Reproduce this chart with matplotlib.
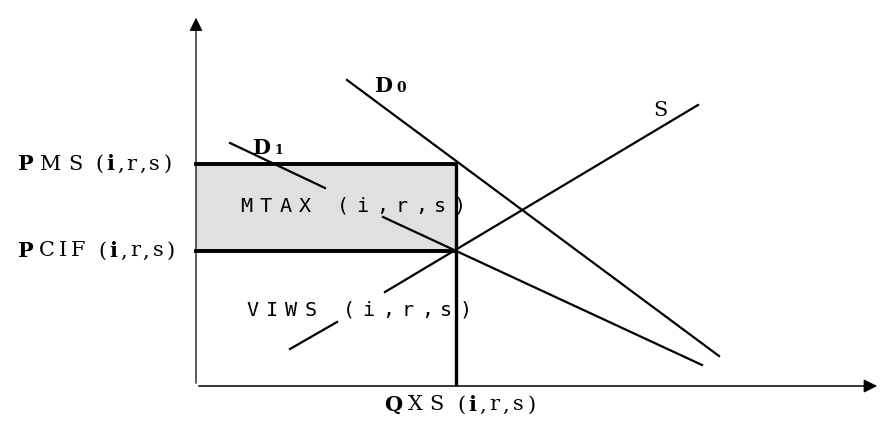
import matplotlib.pyplot as plt
from matplotlib.font_manager import FontProperties

# quantity / price units measured from the origin of the diagram
q_max, p_max = 684, 371
qxs = 260            # traded quantity
pms = 222            # market price incl. tax
pcif = 135.5         # cif price

d0_q = [151, 523]
d0_p = [306, 30]
d1_q = [34, 129, 187, 506]     # D1 drawn in two pieces around the MTAX label
d1_p = [243, 198, 169, 21]
s_q = [94, 141, 189, 502]      # S drawn in two pieces around the VIWS label
s_p = [37, 64, 94, 281]

fig = plt.figure(figsize=(8.81, 4.21), dpi=100)
ax = fig.add_axes([0, 0, 1, 1])
ax.set_xlim(-196, 685)
ax.set_ylim(-35, 386)
ax.axis('off')
rend = fig.canvas.get_renderer()


def adv(ch, fp):
    # advance width of one character in pixels
    w = rend.get_text_width_height_descent('|' + ch + '|', fp, ismath=False)[0]
    return w - rend.get_text_width_height_descent('||', fp, ismath=False)[0]


def wide_text(x, y, s, width, family, size, bold=()):
    # the source draws its labels stretched sideways, so lay the letters out one by one
    props = [FontProperties(family=family, size=size,
                            weight='bold' if i in bold else 'normal') for i in range(len(s))]
    advs = [adv(c, p) for c, p in zip(s, props)]
    k = width / sum(advs)
    pos = x
    for c, p, a in zip(s, props, advs):
        ax.text(pos + a * k / 2, y, c, fontproperties=p, ha='center', va='center_baseline')
        pos += a * k


# axes with arrow heads
ax.annotate('', xy=(q_max, 0), xytext=(0, 0),
            arrowprops=dict(arrowstyle='-|>', color='black', lw=1.1, mutation_scale=20))
ax.annotate('', xy=(0, p_max), xytext=(0, 0),
            arrowprops=dict(arrowstyle='-|>', color='black', lw=0.9, mutation_scale=20))

# tax rectangle
ax.fill_between([0, qxs], pcif, pms, color='#e0e0e0', zorder=1)
ax.plot([0, qxs], [pms, pms], color='black', lw=2.8, zorder=3)
ax.plot([0, qxs], [pcif, pcif], color='black', lw=2.8, zorder=3)
ax.plot([qxs, qxs], [0, pms], color='black', lw=2.4, zorder=3, solid_capstyle='butt')

# curves
ax.plot(d0_q, d0_p, color='black', lw=1.6)
ax.plot(d1_q[:2], d1_p[:2], color='black', lw=1.6)
ax.plot(d1_q[2:], d1_p[2:], color='black', lw=1.6)
ax.plot(s_q[:2], s_p[:2], color='black', lw=1.6)
ax.plot(s_q[2:], s_p[2:], color='black', lw=1.6)

# labels
serif = 'DejaVu Serif'
wide_text(-181, 224, 'PMS (i,r,s)', 158, serif, 15, bold=(0, 5))
wide_text(-181, 137, 'PCIF (i,r,s)', 161, serif, 15, bold=(0, 6))
wide_text(184, -17, 'QXS (i,r,s)', 157, serif, 15, bold=(0, 5))
wide_text(176, 302, 'D', 23, serif, 15, bold=(0,))
ax.text(200, 298, '0', family=serif, fontsize=10, fontweight='bold', ha='left', va='center')
wide_text(54, 240, 'D', 23, serif, 15, bold=(0,))
ax.text(78, 236, '1', family=serif, fontsize=9, fontweight='bold', ha='left', va='center')
wide_text(456, 277, 'S', 17, serif, 15)
wide_text(41, 182, 'MTAX (i,r,s)', 232, 'DejaVu Sans Mono', 14.5)
wide_text(47, 78, 'VIWS (i,r,s)', 232, 'DejaVu Sans Mono', 14.5)

fig.savefig('out.png', dpi=100)
